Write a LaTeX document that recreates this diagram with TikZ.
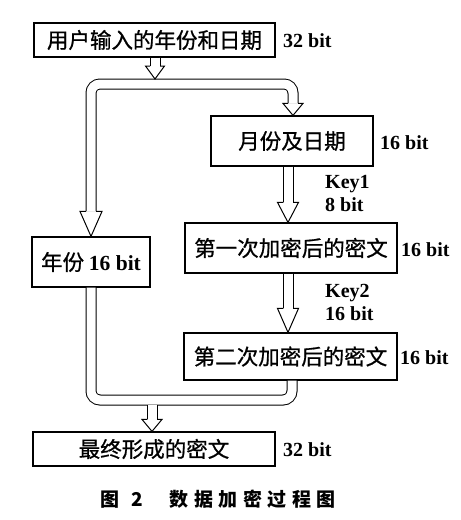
\documentclass[tikz,border=0pt]{standalone}
\usepackage{fontspec}
\setmainfont{Liberation Serif}
\newfontfamily\cjk{Noto Sans CJK SC}[FakeBold=0.8]
\newfontfamily\cjkcap{Noto Sans CJK SC}
\usetikzlibrary{calc}
\tikzset{
  box/.style={draw, line width=1.2pt, inner sep=0pt, font=\cjk\fontsize{21.5}{24}\selectfont},
  bits/.style={anchor=west, inner sep=0pt, font=\bfseries\fontsize{20}{23}\selectfont},
  keylabel/.style={anchor=west, inner sep=0pt, align=left, font=\bfseries\fontsize{20}{23}\selectfont},
  band/.style={draw=black, line width=1pt, double=white, double distance=9pt, rounded corners=9pt},
  headshape/.style={fill=white, draw=black, line width=1pt, line join=miter},
}
\newcommand\hollowhead[3]{% tip, head length, half wing
  \filldraw[headshape] ($(#1)+(-5,-#2)$) -- ($(#1)+(-#3,-#2)$) -- (#1) -- ($(#1)+(#3,-#2)$) -- ($(#1)+(5,-#2)$);
}
\newcommand\hollowarrow[4]{% from, tip, head length, half wing
  \draw[band] (#1) -- ($(#2)+(0,-#3+0.8)$);
  \hollowhead{#2}{#3}{#4}
}
\begin{document}
\begin{tikzpicture}[x=1pt,y=-1pt]
\useasboundingbox (0,0) rectangle (461,520);
% boxes
\node[box, minimum width=241pt, minimum height=34pt] (input) at (154.5,40) {用户输入的年份和日期};
\node[bits] (binput) at (283,41) {32 bit};
\node[box, minimum width=162pt, minimum height=50pt] (month) at (292,141) {月份及日期};
\node[bits] (bmonth) at (380,143) {16 bit};
\node[box, minimum width=212pt, minimum height=50pt] (enc1) at (291,248) {第一次加密后的密文};
\node[bits] (benc1) at (401,250) {16 bit};
\node[box, minimum width=213pt, minimum height=47pt] (enc2) at (290.5,356.5) {第二次加密后的密文};
\node[bits] (benc2) at (400,358) {16 bit};
\node[box, minimum width=118pt, minimum height=50pt] (year) at (91,262) {年份 {\rmfamily\bfseries 16 bit}};
\node[box, minimum width=242pt, minimum height=34pt] (final) at (154,449) {最终形成的密文};
\node[bits] (bfinal) at (283,450) {32 bit};
\node[keylabel] (key1) at (325,193.5) {Key1\\8 bit};
\node[keylabel] (key2) at (325,302.5) {Key2\\16 bit};
\node[anchor=west, inner sep=0pt, font=\cjkcap\bfseries\fontsize{19}{22}\selectfont] (cap) at (100,499)
  {图\hspace{12pt}2\hspace{27pt}数\hspace{5.5pt}据\hspace{5.5pt}加\hspace{5.5pt}密\hspace{5.5pt}过\hspace{5.5pt}程\hspace{5.5pt}图};
% coordinates
\coordinate (topbus) at (155,84);
\coordinate (toptip) at ($(topbus)+(0,-5)$);
\coordinate (ltip) at (year.north);
\coordinate (rtip) at ($(month.north)+(1,0)$);
\coordinate (midx) at (288,0);
\coordinate (botbus) at (152,400);
\coordinate (botout) at ($(botbus)+(0,4.5)$);
% top band
\draw[band] ($(ltip)+(0,-25)$) |- (topbus) -| ($(rtip)+(0,-12)$);
\hollowhead{ltip}{25}{11}
\hollowhead{rtip}{12}{10}
\hollowarrow{input.south -| topbus}{toptip}{13}{9.5}
% middle arrows
\hollowarrow{month.south -| midx}{enc1.north -| midx}{20}{10.5}
\hollowarrow{enc1.south -| midx}{enc2.north -| midx}{24}{10.5}
% bottom band
\draw[band] (year.south) |- (botbus) -| ($(enc2.south)+(1.5,0)$);
\hollowarrow{botout}{final.north -| botbus}{12}{10}
\end{tikzpicture}
\end{document}
